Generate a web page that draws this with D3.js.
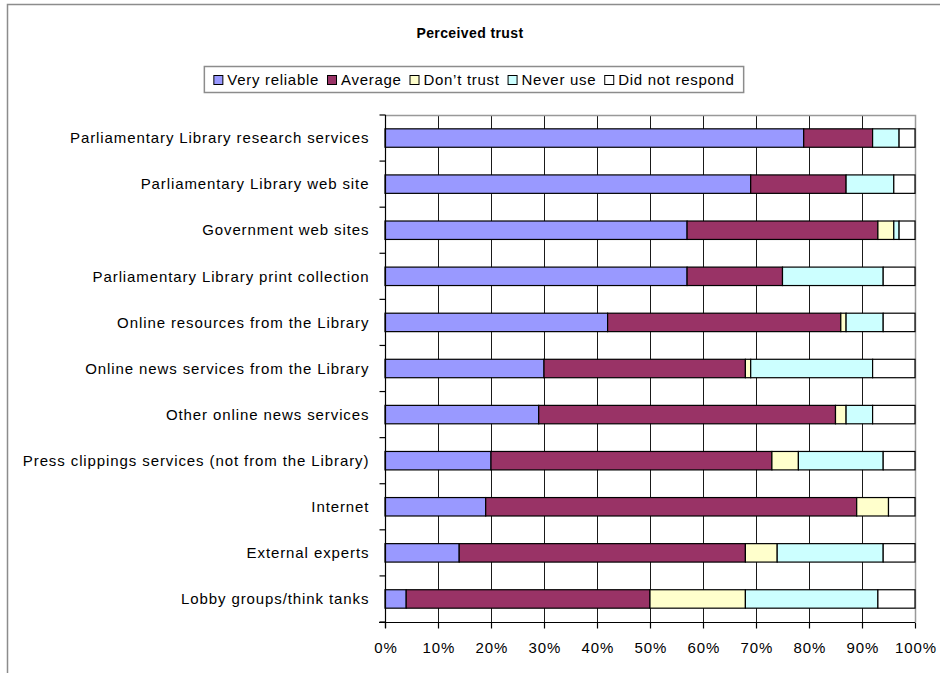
<!DOCTYPE html>
<html>
<head>
<meta charset="utf-8">
<script src="https://cdn.jsdelivr.net/npm/d3@7"></script>
<style>
  html, body { margin: 0; padding: 0; background: #fff; }
  svg text { font-family: "Liberation Sans", Arial, sans-serif; fill: #000; }
</style>
</head>
<body>
<svg id="chart" width="940" height="673"></svg>
<script>
// Survey sources, top to bottom
const categories = [
  "Parliamentary Library research services",
  "Parliamentary Library web site",
  "Government web sites",
  "Parliamentary Library print collection",
  "Online resources from the Library",
  "Online news services from the Library",
  "Other online news services",
  "Press clippings services (not from the Library)",
  "Internet",
  "External experts",
  "Lobby groups/think tanks"
];

// Share of respondents (%) per answer
const veryReliable  = [79, 69, 57, 57, 42, 30, 29, 20, 19, 14, 4];
const average       = [13, 18, 36, 18, 44, 38, 56, 53, 70, 54, 46];
const dontTrust     = [0, 0, 3, 0, 1, 1, 2, 5, 6, 6, 18];
const neverUse      = [5, 9, 1, 19, 7, 23, 5, 16, 0, 20, 25];
const didNotRespond = [3, 4, 3, 6, 6, 8, 8, 6, 5, 6, 7];

const seriesNames  = ["Very reliable", "Average", "Don\u2019t trust", "Never use", "Did not respond"];
const seriesColors = ["#9999FF", "#993366", "#FFFFCC", "#CCFFFF", "#FFFFFF"];
const tickValues   = [0, 10, 20, 30, 40, 50, 60, 70, 80, 90, 100];

const rows = categories.map((c, i) => ({
  category: c,
  "Very reliable": veryReliable[i],
  "Average": average[i],
  "Don\u2019t trust": dontTrust[i],
  "Never use": neverUse[i],
  "Did not respond": didNotRespond[i]
}));

const svg = d3.select("#chart");
const plot = { left: 385, right: 915, top: 115, bottom: 622 };
const spacing = 0.9;

// Outer frame of the chart
svg.append("rect")
  .attr("x", 7.5).attr("y", 4.5)
  .attr("width", 960).attr("height", 700)
  .attr("fill", "none").attr("stroke", "#8c8c8c").attr("stroke-width", 1.5);

const x = d3.scaleLinear().domain([0, 100]).range([plot.left, plot.right]);
const y = d3.scaleBand().domain(categories)
  .range([plot.top, plot.bottom])
  .paddingInner(0.6).paddingOuter(0.3);

// Vertical gridlines
svg.append("g").selectAll("line")
  .data(tickValues.slice(1, -1))
  .join("line")
  .attr("x1", d => Math.round(x(d)) + 0.5).attr("x2", d => Math.round(x(d)) + 0.5)
  .attr("y1", plot.top).attr("y2", plot.bottom)
  .attr("stroke", "#1a1a1a").attr("stroke-width", 1);

// Plot area border (top and right)
svg.append("path")
  .attr("d", `M${plot.left},${plot.top + 0.5}H${plot.right + 0.5}V${plot.bottom}`)
  .attr("fill", "none").attr("stroke", "#999").attr("stroke-width", 1.5);

// Stacked bars
const stack = d3.stack().keys(seriesNames);
const stacked = stack(rows);

svg.append("g").selectAll("g")
  .data(stacked)
  .join("g")
  .attr("fill", (d, i) => seriesColors[i])
  .selectAll("rect")
  .data(d => d.filter(s => s[1] - s[0] > 0))
  .join("rect")
  .attr("x", d => x(d[0]))
  .attr("y", d => y(d.data.category))
  .attr("width", d => x(d[1]) - x(d[0]))
  .attr("height", y.bandwidth())
  .attr("stroke", "#000").attr("stroke-width", 1.2);

// Category axis with ticks between categories
const yAxis = svg.append("g").attr("transform", `translate(${plot.left + 0.5},0)`);
yAxis.append("line")
  .attr("y1", plot.top).attr("y2", plot.bottom + 6)
  .attr("stroke", "#000").attr("stroke-width", 1.2);
const boundaries = d3.range(categories.length + 1).map(i => plot.top + i * y.step());
yAxis.selectAll(".btick").data(boundaries).join("line")
  .attr("x1", -6).attr("x2", 0)
  .attr("y1", d => d).attr("y2", d => d)
  .attr("stroke", "#000").attr("stroke-width", 1.2);
yAxis.selectAll("text").data(categories).join("text")
  .attr("x", -17 + spacing)
  .attr("y", d => y(d) + y.bandwidth() / 2)
  .attr("dy", "0.35em")
  .attr("text-anchor", "end")
  .attr("font-size", 15)
  .attr("letter-spacing", spacing)
  .text(d => d);

// Value axis
const xAxis = d3.axisBottom(x)
  .tickValues(tickValues)
  .tickFormat(d => d + "%")
  .tickSize(6).tickPadding(14);
const gx = svg.append("g")
  .attr("transform", `translate(0,${plot.bottom + 0.5})`)
  .call(xAxis);
gx.select(".domain").attr("stroke", "#000").attr("stroke-width", 1.2)
  .attr("d", `M${plot.left - 6},0H${plot.right}`);
gx.selectAll(".tick line").attr("stroke", "#000").attr("stroke-width", 1.2);
gx.selectAll(".tick text")
  .attr("font-size", 15)
  .attr("letter-spacing", spacing)
  .attr("dx", spacing / 2)
  .attr("font-family", "Liberation Sans, Arial, sans-serif")
  .attr("fill", "#000");

// Title
svg.append("text")
  .attr("x", 470).attr("y", 38)
  .attr("text-anchor", "middle")
  .attr("font-size", 14).attr("font-weight", "bold")
  .attr("letter-spacing", 0.4)
  .text("Perceived trust");

// Legend
const legend = svg.append("g");
const legendBox = legend.append("rect")
  .attr("y", 66.5).attr("height", 26)
  .attr("fill", "#fff").attr("stroke", "#8c8c8c").attr("stroke-width", 1.5);
let cursor = 0;
const items = legend.append("g");
seriesNames.forEach((name, i) => {
  const item = items.append("g").attr("transform", `translate(${cursor},0)`);
  item.append("rect")
    .attr("x", 0.5).attr("y", 75.5).attr("width", 9).attr("height", 9)
    .attr("fill", seriesColors[i]).attr("stroke", "#000").attr("stroke-width", 1);
  const t = item.append("text")
    .attr("x", 14).attr("y", 80).attr("dy", "0.35em")
    .attr("font-size", 15).attr("letter-spacing", 0.7).text(name);
  cursor += 14 + t.node().getComputedTextLength() + 8;
});
const total = cursor - 8;
const legendLeft = 474 - total / 2;
items.attr("transform", `translate(${legendLeft},0)`);
legendBox.attr("x", legendLeft - 9).attr("width", total + 18);
</script>
</body>
</html>
